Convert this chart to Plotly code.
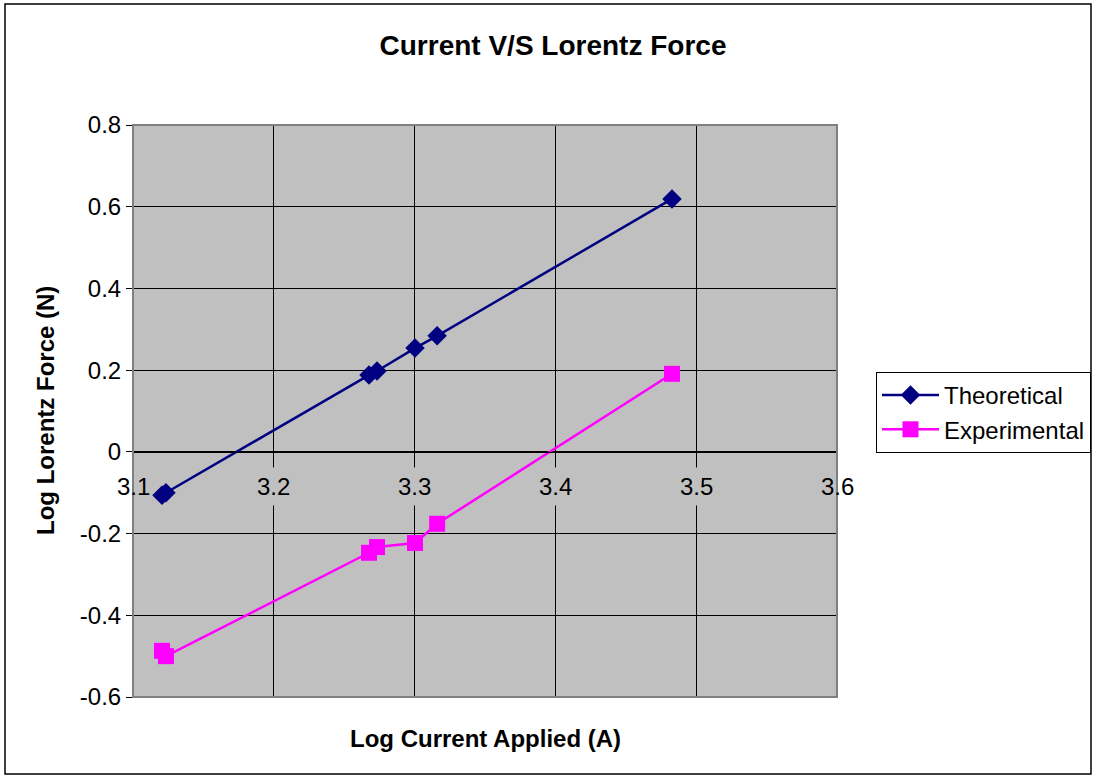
import plotly.graph_objects as go

log_current = [3.1206, 3.1234, 3.2676, 3.2733, 3.3003, 3.316, 3.4828]
theoretical = [-0.106, -0.100, 0.188, 0.198, 0.254, 0.284, 0.619]
experimental = [-0.487, -0.500, -0.247, -0.233, -0.223, -0.176, 0.191]
x_ticks = [3.1, 3.2, 3.3, 3.4, 3.5, 3.6]
y_ticks = [-0.6, -0.4, -0.2, 0, 0.2, 0.4, 0.6, 0.8]

FONT = "Liberation Sans, Arial, sans-serif"
L, R, T, B = 133, 257, 125, 81
W, H = 1094, 778
pw, ph = W - L - R, H - T - B
GRAY = "#C0C0C0"

fig = go.Figure()
fig.add_trace(go.Scatter(x=log_current, y=theoretical, name="Theoretical",
                         mode="lines+markers",
                         line=dict(color="#000080", width=2.5),
                         marker=dict(symbol="diamond", size=15, color="#000080")))
fig.add_trace(go.Scatter(x=log_current, y=experimental, name="Experimental",
                         mode="lines+markers",
                         line=dict(color="#FF00FF", width=2.5),
                         marker=dict(symbol="square", size=16, color="#FF00FF")))
# invisible trace to carry the axis crossing at zero
fig.add_trace(go.Scatter(x=[x_ticks[0]], y=[0], xaxis="x2", mode="markers",
                         marker=dict(opacity=0), showlegend=False, hoverinfo="skip"))

ymin, ymax = y_ticks[0], y_ticks[-1]
zero_pos = (0 - ymin) / (ymax - ymin)

fig.update_layout(
    width=W, height=H,
    margin=dict(l=L, r=R, t=T, b=B, autoexpand=False),
    paper_bgcolor="white",
    plot_bgcolor=GRAY,
    font=dict(family=FONT, size=24, color="black"),
    title=dict(text="<b>Current V/S Lorentz Force</b>", x=553 / W, xanchor="center",
               y=1 - 45 / H, yanchor="middle", font=dict(size=28, family=FONT)),
    xaxis=dict(range=[x_ticks[0], x_ticks[-1]], tickvals=x_ticks, showticklabels=False,
               showgrid=True, gridcolor="black", gridwidth=1, zeroline=False,
               showline=False, ticks=""),
    xaxis2=dict(range=[x_ticks[0], x_ticks[-1]], tickvals=x_ticks, showticklabels=False,
                overlaying="x", anchor="free", position=zero_pos, side="bottom",
                showgrid=False, zeroline=False, showline=True, linecolor="black",
                linewidth=1, ticks="outside", ticklen=6, tickcolor="black"),
    yaxis=dict(range=[ymin, ymax], tickvals=y_ticks,
               ticktext=[f"{v:g}" for v in y_ticks],
               showgrid=True, gridcolor="black", gridwidth=1, zeroline=False,
               showline=True, linecolor="black", linewidth=1,
               ticks="outside", ticklen=6, tickcolor="black",
               tickfont=dict(size=24, family=FONT)),
    legend=dict(x=(876 - L) / pw, y=(H - B - 372) / ph, xanchor="left", yanchor="top",
                bordercolor="black", borderwidth=1, bgcolor="white",
                font=dict(size=24, family=FONT), tracegroupgap=0, itemwidth=57),
    showlegend=True,
)

# x tick labels sitting below the zero crossing line
for i, v in enumerate(x_ticks):
    inner = 0 < i < len(x_ticks) - 1
    fig.add_annotation(text=f"{v:g}", xref="x", yref="y", x=v, y=0,
                       yshift=-35, xanchor="center", yanchor="middle",
                       showarrow=False, font=dict(size=24, family=FONT),
                       bgcolor=GRAY if inner else "rgba(0,0,0,0)", borderpad=5)

# plot area frame (gray)
fig.add_shape(type="rect", xref="paper", yref="paper", x0=0, x1=1, y0=0, y1=1,
              line=dict(color="#808080", width=2), layer="above")
# outer chart border
fig.add_shape(type="rect", xref="paper", yref="paper",
              x0=(5 - L) / pw, x1=(1091 - L) / pw,
              y0=(H - B - 774) / ph, y1=(H - B - 4) / ph,
              line=dict(color="black", width=1.5))

fig.add_annotation(text="<b>Log Current Applied (A)</b>", xref="paper", yref="paper",
                   x=0.5, y=(H - B - 738) / ph, xanchor="center", yanchor="middle",
                   showarrow=False, font=dict(size=24, family=FONT))
fig.add_annotation(text="<b>Log Lorentz Force (N)</b>", xref="paper", yref="paper",
                   x=(45 - L) / pw, y=0.5, xanchor="center", yanchor="middle",
                   textangle=-90, showarrow=False, font=dict(size=24, family=FONT))

fig.write_html("out.html", config={"displayModeBar": False},
               post_script="document.body.style.margin='0';")
